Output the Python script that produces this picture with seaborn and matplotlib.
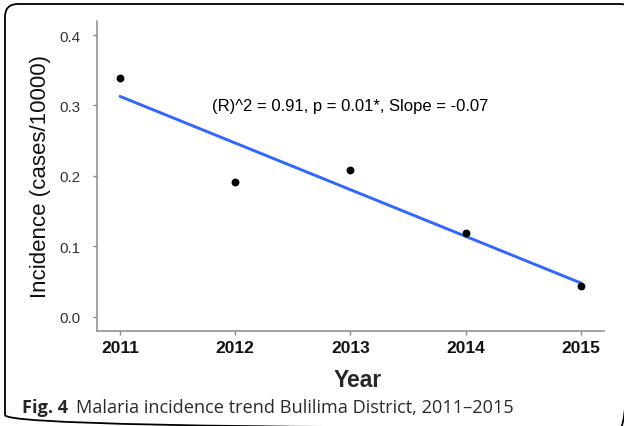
import matplotlib
matplotlib.use("Agg")
import matplotlib.pyplot as plt
from matplotlib.patches import FancyBboxPatch
import seaborn as sns
import pandas as pd

years = [2011, 2012, 2013, 2014, 2015]
incidence = [0.3385, 0.1918, 0.2088, 0.1192, 0.0433]
x_ticks = [2011, 2012, 2013, 2014, 2015]
y_ticks = [0.0, 0.1, 0.2, 0.3, 0.4]
stats_label = "(R)^2 = 0.91, p = 0.01*, Slope = -0.07"
caption_bold = "Fig. 4"
caption_text = "Malaria incidence trend Bulilima District, 2011\u20132015"

df = pd.DataFrame({"Year": years, "Incidence": incidence})

sns.set_theme(style="ticks")
plt.rcParams["font.family"] = ["Liberation Sans", "DejaVu Sans"]

W, H = 624, 427
fig = plt.figure(figsize=(W / 100, H / 100), dpi=100)

# full-figure overlay in pixel units, only for the rounded frame
frame_ax = fig.add_axes([0, 0, 1, 1], zorder=-1)
frame_ax.set_xlim(0, W)
frame_ax.set_ylim(H, 0)
frame_ax.axis("off")
frame_ax.add_patch(FancyBboxPatch((5, 5), 628, 424,
                                  boxstyle="round,pad=0,rounding_size=13",
                                  fill=False, edgecolor="black", lw=1.3,
                                  clip_on=False))

ax = fig.add_axes([97 / W, 1 - 331.7 / H, (604 - 97) / W, (331.7 - 22) / H])
ax.patch.set_alpha(0)

sns.regplot(data=df, x="Year", y="Incidence", ci=None, scatter=False,
            line_kws={"color": "#3366FF", "lw": 2.1}, ax=ax)
sns.scatterplot(data=df, x="Year", y="Incidence", color="black", s=32,
                edgecolor="black", linewidth=0, zorder=3, ax=ax)

ax.set_xlim(2010.8, 2015.2)
ax.set_ylim(-0.02, 0.42)
ax.set_xticks(x_ticks)
ax.set_xticklabels([str(t) for t in x_ticks], fontsize=12.5, fontweight="bold", color="#111111")
ax.set_yticks(y_ticks)
ax.set_yticklabels([f"{t:.1f}" for t in y_ticks], fontsize=11, color="#333333")
ax.tick_params(axis="both", length=3, width=1, color="#8a8a8a")
ax.tick_params(axis="y", pad=9)
ax.tick_params(axis="x", pad=4)
for side in ["top", "right"]:
    ax.spines[side].set_visible(False)
for side in ["left", "bottom"]:
    ax.spines[side].set_color("#8a8a8a")
    ax.spines[side].set_linewidth(1.1)

ax.set_xlabel("Year", fontsize=16.5, fontweight="bold", labelpad=9)
ax.xaxis.label.set_x(0.515)
ax.set_ylabel("Incidence (cases/10000)", fontsize=16, labelpad=6, color="#111111")

ax.text(2013, 0.3, stats_label, ha="center", va="center", fontsize=12, color="black")

# caption under the plot
fig.canvas.draw()
r = fig.canvas.get_renderer()
t1 = fig.text(22 / W, 1 - 413 / H, caption_bold, fontsize=13.1, fontweight="bold",
              family=["Open Sans", "DejaVu Sans"], ha="left", va="baseline")
bb = t1.get_window_extent(renderer=r)
fig.text((bb.x1 + 8) / W, 1 - 413 / H, caption_text, fontsize=13.1,
         family=["Open Sans", "DejaVu Sans"], ha="left", va="baseline", color="#2a2a2a")

fig.savefig("out.png", dpi=100)
